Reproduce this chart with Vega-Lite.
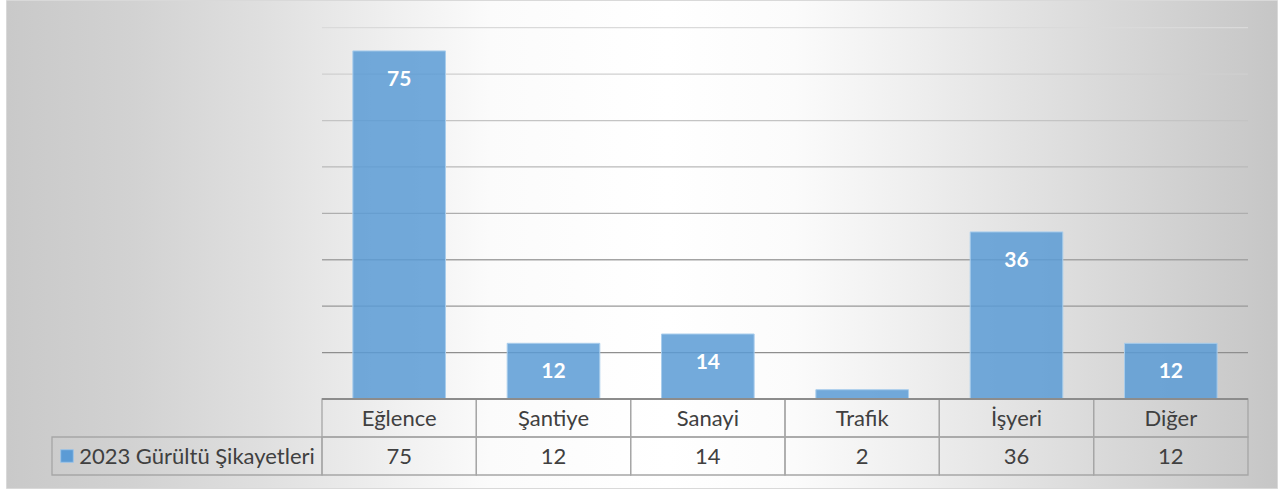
{
  "$schema": "https://vega.github.io/schema/vega-lite/v6.json",
  "width": 1271,
  "height": 488,
  "autosize": {"type": "none"},
  "padding": {"left": 6, "top": 0, "right": 4, "bottom": 5},
  "background": "white",
  "view": {
    "fill": {
      "gradient": "linear",
      "x1": 0, "y1": 0.5, "x2": 1, "y2": 0.5,
      "stops": [
        {"offset": 0, "color": "#c9c9c9"},
        {"offset": 0.1, "color": "#d2d2d2"},
        {"offset": 0.2, "color": "#dfdfdf"},
        {"offset": 0.3, "color": "#efefef"},
        {"offset": 0.38, "color": "#fbfbfb"},
        {"offset": 0.52, "color": "#ffffff"},
        {"offset": 0.62, "color": "#fbfbfb"},
        {"offset": 0.71, "color": "#efefef"},
        {"offset": 0.8, "color": "#e2e2e2"},
        {"offset": 0.9, "color": "#d4d4d4"},
        {"offset": 1, "color": "#c6c6c6"}
      ]
    },
    "stroke": "#d9d9d9"
  },
  "config": {"font": "Lato"},
  "datasets": {
    "complaints": [
      {"kategori": "Eğlence", "sikayet": 75},
      {"kategori": "Şantiye", "sikayet": 12},
      {"kategori": "Sanayi", "sikayet": 14},
      {"kategori": "Trafik", "sikayet": 2},
      {"kategori": "İşyeri", "sikayet": 36},
      {"kategori": "Diğer", "sikayet": 12}
    ],
    "grid": [
      {"deger": 10}, {"deger": 20}, {"deger": 30}, {"deger": 40},
      {"deger": 50}, {"deger": 60}, {"deger": 70}, {"deger": 80}
    ],
    "series": [{"seri": "2023 Gürültü Şikayetleri"}]
  },
  "resolve": {"scale": {"x": "independent", "y": "independent"}},
  "layer": [
    {
      "data": {"name": "grid"},
      "mark": {"type": "rule", "strokeWidth": 1.3},
      "encoding": {
        "y": {"field": "deger", "type": "quantitative", "scale": {"domain": [0, 80], "range": [399, 27.7], "nice": false}, "axis": null},
        "x": {"datum": 0, "type": "quantitative", "scale": {"domain": [0, 6], "range": [316, 1242]}, "axis": null},
        "x2": {"datum": 6},
        "color": {"field": "deger", "type": "quantitative", "scale": {"domain": [10, 80], "range": ["#8e8e8e", "#dadada"]}, "legend": null}
      }
    },
    {
      "data": {"name": "complaints"},
      "mark": {"type": "bar", "fill": "#5b9bd5", "fillOpacity": 0.85, "stroke": "#a9cdec", "strokeWidth": 1},
      "encoding": {
        "x": {"field": "kategori", "type": "nominal", "sort": null,
              "scale": {"domain": ["Eğlence", "Şantiye", "Sanayi", "Trafik", "İşyeri", "Diğer"], "range": [316, 1242], "paddingInner": 0.4, "paddingOuter": 0.2}, "axis": null},
        "y": {"field": "sikayet", "type": "quantitative", "scale": {"domain": [0, 80], "range": [399, 27.7], "nice": false}, "axis": null}
      }
    },
    {
      "data": {"name": "complaints"},
      "transform": [{"filter": "datum.sikayet >= 5"}],
      "mark": {"type": "text", "fill": "white", "fontWeight": "bold", "fontSize": 21, "baseline": "alphabetic", "dy": 35},
      "encoding": {
        "x": {"field": "kategori", "type": "nominal", "sort": null,
              "scale": {"domain": ["Eğlence", "Şantiye", "Sanayi", "Trafik", "İşyeri", "Diğer"], "range": [316, 1242], "paddingInner": 0.4, "paddingOuter": 0.2}, "axis": null},
        "y": {"field": "sikayet", "type": "quantitative", "scale": {"domain": [0, 80], "range": [399, 27.7], "nice": false}, "axis": null},
        "text": {"field": "sikayet", "type": "quantitative"}
      }
    },
    {
      "data": {"name": "complaints"},
      "mark": {"type": "rect", "fill": "transparent", "stroke": "#a6a6a6", "strokeWidth": 1.3},
      "encoding": {
        "x": {"field": "kategori", "type": "nominal", "sort": null,
              "scale": {"domain": ["Eğlence", "Şantiye", "Sanayi", "Trafik", "İşyeri", "Diğer"], "range": [316, 1242], "paddingInner": 0, "paddingOuter": 0}, "axis": null},
        "y": {"datum": "cat", "type": "nominal", "scale": {"domain": ["cat", "val"], "range": [399, 475], "paddingInner": 0, "paddingOuter": 0}, "axis": null}
      }
    },
    {
      "data": {"name": "complaints"},
      "mark": {"type": "rect", "fill": "transparent", "stroke": "#a6a6a6", "strokeWidth": 1.3},
      "encoding": {
        "x": {"field": "kategori", "type": "nominal", "sort": null,
              "scale": {"domain": ["Eğlence", "Şantiye", "Sanayi", "Trafik", "İşyeri", "Diğer"], "range": [316, 1242], "paddingInner": 0, "paddingOuter": 0}, "axis": null},
        "y": {"datum": "val", "type": "nominal", "scale": {"domain": ["cat", "val"], "range": [399, 475], "paddingInner": 0, "paddingOuter": 0}, "axis": null}
      }
    },
    {
      "data": {"name": "complaints"},
      "mark": {"type": "text", "fill": "#404040", "fontSize": 22, "baseline": "alphabetic", "dy": 8},
      "encoding": {
        "x": {"field": "kategori", "type": "nominal", "sort": null,
              "scale": {"domain": ["Eğlence", "Şantiye", "Sanayi", "Trafik", "İşyeri", "Diğer"], "range": [316, 1242], "paddingInner": 0, "paddingOuter": 0}, "axis": null},
        "y": {"datum": "cat", "type": "nominal", "scale": {"domain": ["cat", "val"], "range": [399, 475], "paddingInner": 0, "paddingOuter": 0}, "axis": null},
        "text": {"field": "kategori", "type": "nominal"}
      }
    },
    {
      "data": {"name": "complaints"},
      "mark": {"type": "text", "fill": "#404040", "fontSize": 22, "baseline": "alphabetic", "dy": 8},
      "encoding": {
        "x": {"field": "kategori", "type": "nominal", "sort": null,
              "scale": {"domain": ["Eğlence", "Şantiye", "Sanayi", "Trafik", "İşyeri", "Diğer"], "range": [316, 1242], "paddingInner": 0, "paddingOuter": 0}, "axis": null},
        "y": {"datum": "val", "type": "nominal", "scale": {"domain": ["cat", "val"], "range": [399, 475], "paddingInner": 0, "paddingOuter": 0}, "axis": null},
        "text": {"field": "sikayet", "type": "quantitative"}
      }
    },
    {
      "data": {"values": [{}]},
      "mark": {"type": "rule", "stroke": "#8c8c8c", "strokeWidth": 2},
      "encoding": {
        "y": {"datum": 0, "type": "quantitative", "scale": {"domain": [0, 80], "range": [399, 27.7], "nice": false}, "axis": null},
        "x": {"datum": 0, "type": "quantitative", "scale": {"domain": [0, 6], "range": [316, 1242]}, "axis": null},
        "x2": {"datum": 6}
      }
    },
    {
      "data": {"name": "series"},
      "mark": {"type": "rect", "fill": "transparent", "stroke": "#a6a6a6", "strokeWidth": 1.3},
      "encoding": {
        "x": {"field": "seri", "type": "nominal", "scale": {"range": [46, 316], "paddingInner": 0, "paddingOuter": 0}, "axis": null},
        "y": {"datum": "val", "type": "nominal", "scale": {"domain": ["cat", "val"], "range": [399, 475], "paddingInner": 0, "paddingOuter": 0}, "axis": null}
      }
    },
    {
      "data": {"name": "series"},
      "mark": {"type": "text", "fill": "#404040", "fontSize": 22, "baseline": "alphabetic", "dy": 8, "dx": 10},
      "encoding": {
        "x": {"field": "seri", "type": "nominal", "scale": {"range": [46, 316], "paddingInner": 0, "paddingOuter": 0}, "axis": null},
        "y": {"datum": "val", "type": "nominal", "scale": {"domain": ["cat", "val"], "range": [399, 475], "paddingInner": 0, "paddingOuter": 0}, "axis": null},
        "text": {"field": "seri", "type": "nominal"}
      }
    },
    {
      "data": {"name": "series"},
      "mark": {"type": "point", "shape": "square", "filled": true, "size": 160, "fill": "#5b9bd5", "stroke": "#9dc3e6", "strokeWidth": 1, "opacity": 1, "xOffset": -120},
      "encoding": {
        "x": {"field": "seri", "type": "nominal", "scale": {"range": [46, 316], "paddingInner": 0, "paddingOuter": 0}, "axis": null},
        "y": {"datum": "val", "type": "nominal", "scale": {"domain": ["cat", "val"], "range": [399, 475], "paddingInner": 0, "paddingOuter": 0}, "axis": null}
      }
    }
  ]
}
